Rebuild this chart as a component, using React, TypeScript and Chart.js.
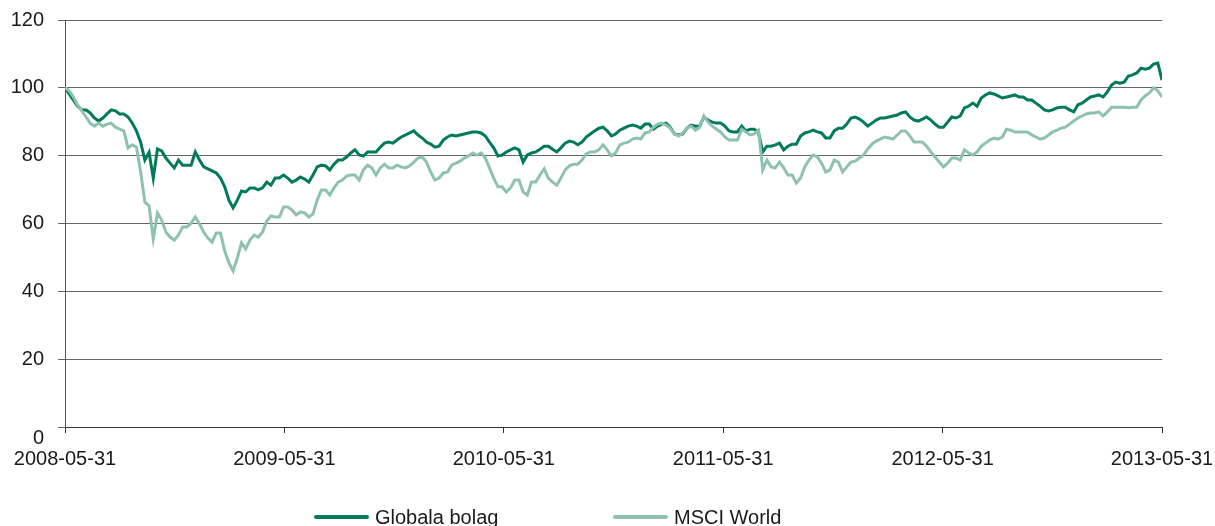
import React, { useEffect, useRef } from 'react';
import { Chart, registerables } from 'chart.js';

Chart.register(...registerables);

const tickLabels = ['2008-05-31', '2009-05-31', '2010-05-31', '2011-05-31', '2012-05-31', '2013-05-31'];
const seriesNames = ['Globala bolag', 'MSCI World'];

// weekly index values, 2008-05-31 .. 2013-05-31
const globalaBolag = [
  100, 98.2, 96.4, 94.6, 93.5, 93.5, 92.6, 91.1, 90.2, 91.1,
  92.3, 93.5, 93.2, 92.3, 92.3, 91.4, 89.6, 87.3, 84.0, 78.7,
  81.0, 73.4, 82.0, 81.4, 79.3, 77.8, 76.4, 78.7, 77.2, 77.2,
  77.2, 81.1, 78.7, 76.7, 76.1, 75.5, 74.9, 73.4, 70.8, 66.9,
  64.6, 66.9, 69.6, 69.3, 70.5, 70.5, 69.9, 70.5, 72.2, 71.3,
  73.4, 73.4, 74.3, 73.4, 72.2, 72.8, 73.7, 73.1, 72.2, 74.3,
  76.7, 77.2, 77.0, 75.8, 77.5, 78.7, 78.7, 79.6, 80.8, 81.7,
  80.2, 79.9, 81.1, 81.1, 81.1, 82.5, 83.7, 84.0, 83.7, 84.6,
  85.5, 86.1, 86.7, 87.3, 86.1, 85.2, 84.0, 83.4, 82.5, 82.8,
  84.6, 85.5, 86.1, 85.8, 86.1, 86.4, 86.7, 87.0, 87.0, 86.7,
  85.8, 84.0, 82.3, 79.9, 80.2, 81.1, 81.7, 82.3, 81.7, 78.1,
  80.2, 80.8, 81.1, 81.9, 82.8, 82.8, 81.9, 81.1, 82.3, 83.7,
  84.3, 84.0, 83.2, 84.0, 85.5, 86.4, 87.3, 88.1, 88.4, 87.3,
  85.8, 86.4, 87.5, 88.1, 88.7, 89.0, 88.7, 88.1, 89.3, 89.3,
  87.8, 88.7, 89.3, 89.6, 88.4, 86.4, 86.1, 86.4, 88.1, 89.0,
  88.7, 88.7, 91.4, 90.5, 89.9, 89.6, 89.6, 88.7, 87.3, 87.0,
  87.0, 88.7, 87.3, 87.8, 87.8, 86.7, 81.1, 82.8, 82.8, 83.2,
  83.7, 81.7, 82.8, 83.4, 83.4, 85.8, 86.7, 87.0, 87.5, 87.0,
  86.7, 85.2, 85.2, 87.3, 88.1, 88.1, 89.3, 91.1, 91.4, 90.8,
  89.9, 88.7, 89.6, 90.5, 91.1, 91.1, 91.4, 91.7, 92.0, 92.6,
  92.9, 91.4, 90.5, 90.2, 90.8, 91.4, 90.5, 89.3, 88.4, 88.4,
  89.9, 91.4, 91.1, 91.7, 94.1, 94.6, 95.5, 94.6, 97.0, 97.9,
  98.5, 98.2, 97.6, 97.0, 97.3, 97.6, 97.9, 97.3, 97.3, 96.4,
  96.4, 95.5, 94.6, 93.5, 93.2, 93.5, 94.1, 94.3, 94.3, 93.5,
  92.9, 95.0, 95.5, 96.4, 97.3, 97.6, 97.9, 97.3, 98.8, 100.8,
  101.7, 101.4, 101.7, 103.5, 103.8, 104.4, 105.8, 105.5, 105.8, 107.0,
  107.3, 102.3,
];

const msciWorld = [
  100, 99.1, 97.3, 94.9, 93.2, 91.4, 89.6, 88.7, 89.6, 88.7,
  89.3, 89.6, 88.4, 87.8, 87.3, 82.3, 83.2, 82.5, 75.2, 66.3,
  65.2, 55.5, 63.1, 61.0, 57.5, 56.0, 55.1, 56.6, 59.0, 59.0,
  60.1, 61.9, 59.9, 57.5, 55.7, 54.5, 57.2, 57.2, 51.9, 48.4,
  46.0, 49.8, 54.3, 52.5, 55.1, 56.6, 56.0, 57.5, 60.7, 62.2,
  61.9, 61.9, 64.9, 64.9, 64.0, 62.5, 63.4, 63.1, 61.9, 62.8,
  66.9, 69.9, 69.9, 68.4, 70.5, 72.2, 72.8, 74.0, 74.3, 74.3,
  72.8, 75.8, 77.2, 76.4, 74.3, 76.4, 77.5, 76.4, 76.4, 77.2,
  76.7, 76.4, 77.0, 78.1, 79.3, 79.6, 78.1, 75.2, 72.8, 73.4,
  74.9, 75.2, 77.2, 77.8, 78.4, 79.3, 79.9, 80.8, 80.2, 80.8,
  79.3, 76.4, 73.4, 70.8, 70.8, 69.3, 70.5, 72.8, 72.8, 69.3,
  68.4, 72.2, 72.2, 74.3, 76.1, 73.4, 72.2, 71.3, 73.4, 75.8,
  77.0, 77.5, 77.5, 78.7, 80.5, 81.1, 81.1, 81.7, 83.2, 81.7,
  79.9, 80.8, 83.2, 83.7, 84.0, 84.9, 85.2, 84.9, 86.7, 87.0,
  88.4, 89.3, 89.6, 89.0, 88.1, 86.4, 85.8, 86.7, 88.1, 88.7,
  87.5, 88.4, 91.7, 89.9, 88.7, 87.8, 87.0, 85.5, 84.6, 84.6,
  84.6, 87.8, 87.0, 86.1, 86.4, 87.5, 75.8, 78.7, 76.7, 76.4,
  78.1, 76.4, 74.3, 74.3, 71.9, 73.4, 76.7, 78.7, 80.2, 79.6,
  77.8, 75.2, 75.8, 78.7, 78.1, 75.2, 76.7, 78.1, 78.4, 79.3,
  80.2, 82.0, 83.4, 84.3, 84.9, 85.5, 85.2, 84.9, 86.1, 87.3,
  87.3, 85.8, 84.0, 84.0, 84.0, 82.8, 81.1, 79.6, 78.1, 76.7,
  77.8, 79.3, 79.3, 78.7, 81.7, 80.8, 80.2, 81.1, 82.8, 83.7,
  84.6, 85.2, 84.9, 85.5, 87.8, 87.5, 87.0, 87.0, 87.0, 87.0,
  86.1, 85.5, 84.9, 85.2, 86.1, 87.0, 87.5, 88.1, 88.4, 89.3,
  90.2, 91.1, 91.7, 92.3, 92.6, 92.6, 92.9, 91.7, 92.9, 94.3,
  94.3, 94.3, 94.3, 94.1, 94.3, 94.3, 96.4, 97.6, 98.5, 100.0,
  99.1, 97.3,
];

const FONT = '"Liberation Sans", Arial, Helvetica, sans-serif';
const TEXT = '#1a1a1a';
const DARK = '#007a5b';
const LIGHT = '#8fc1b1';

const extrasPlugin = {
  id: 'extras',
  afterDraw(chart: any) {
    const ctx = chart.ctx;
    const yScale = chart.scales.y;
    ctx.save();
    ctx.font = `20px ${FONT}`;
    ctx.fillStyle = TEXT;
    // zero label (offset below the axis, as in the original)
    ctx.textAlign = 'right';
    ctx.textBaseline = 'middle';
    ctx.fillText('0', yScale.right - 21, yScale.getPixelForValue(0) + 11);
    // legend
    ctx.textAlign = 'left';
    const ly = 517;
    const starts = [316, 615];
    chart.data.datasets.forEach((ds: any, i: number) => {
      ctx.strokeStyle = ds.borderColor;
      ctx.lineWidth = 4;
      ctx.lineCap = 'round';
      ctx.beginPath();
      ctx.moveTo(starts[i], ly);
      ctx.lineTo(starts[i] + 51, ly);
      ctx.stroke();
      ctx.fillText(ds.label, starts[i] + 59, ly + 1);
    });
    ctx.restore();
  },
};

export default function App() {
  const ref = useRef<HTMLCanvasElement>(null);
  useEffect(() => {
    const weeks = globalaBolag.length - 1;
    const chart = new Chart(ref.current as HTMLCanvasElement, {
      type: 'line',
      data: {
        datasets: [
          {
            label: seriesNames[0],
            data: globalaBolag.map((y, i) => ({ x: i, y })),
            borderColor: DARK,
            borderWidth: 3,
            pointRadius: 0,
            tension: 0,
            order: 2,
          },
          {
            label: seriesNames[1],
            data: msciWorld.map((y, i) => ({ x: i, y })),
            borderColor: LIGHT,
            borderWidth: 3,
            pointRadius: 0,
            tension: 0,
            order: 1,
          },
        ],
      },
      options: {
        responsive: false,
        animation: false,
        events: [],
        layout: { padding: { top: 20, right: 53, left: 0, bottom: 0 } },
        plugins: { legend: { display: false }, tooltip: { enabled: false } },
        scales: {
          x: {
            type: 'linear',
            min: 0,
            max: weeks,
            afterBuildTicks: (s: any) => {
              s.ticks = tickLabels.map((_, i) => ({ value: (i * weeks) / (tickLabels.length - 1) }));
            },
            afterFit: (s: any) => {
              s.height = 99;
              s.paddingLeft = 0;
              s.paddingRight = 0;
            },
            ticks: {
              autoSkip: false,
              maxRotation: 0,
              padding: 14,
              color: TEXT,
              font: { family: FONT, size: 20 },
              callback: (_v: any, i: number) => tickLabels[i],
            },
            grid: { drawOnChartArea: false, drawTicks: true, tickLength: 6, color: '#333' },
            border: { color: '#333', width: 1 },
          },
          y: {
            min: 0,
            max: 120,
            afterFit: (s: any) => {
              s.width = 65;
              s.paddingTop = 0;
              s.paddingBottom = 0;
            },
            ticks: {
              stepSize: 20,
              padding: 14,
              color: TEXT,
              font: { family: FONT, size: 20 },
              callback: (v: any) => (v === 0 ? '' : String(v)),
            },
            grid: { color: '#666', lineWidth: 1, tickLength: 7 },
            border: { color: '#555', width: 1 },
          },
        },
      },
      plugins: [extrasPlugin],
    });
    return () => chart.destroy();
  }, []);

  return (
    <div style={{ position: 'fixed', left: 0, top: 0, width: 1215, height: 526, background: '#fff' }}>
      <canvas ref={ref} width={1215} height={526} style={{ display: 'block' }} />
    </div>
  );
}
